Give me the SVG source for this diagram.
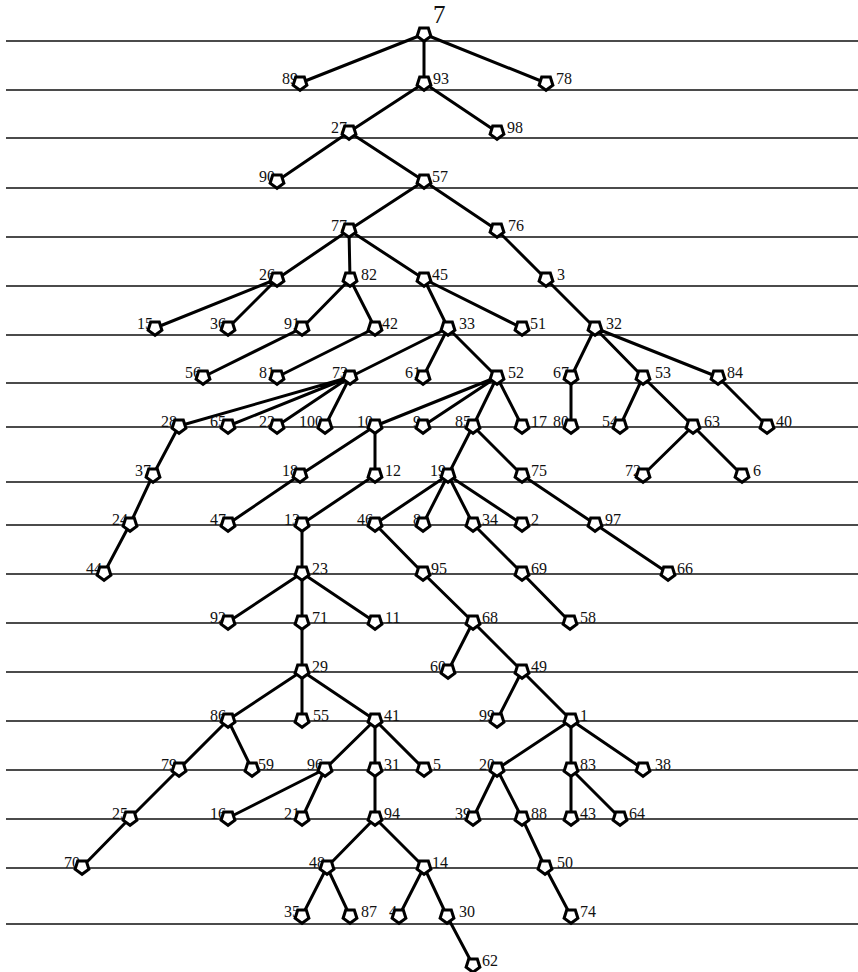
<svg xmlns="http://www.w3.org/2000/svg" width="858" height="972" viewBox="0 0 858 972">
<style>
.rule{stroke:#111;stroke-width:1.4;fill:none}
.e{stroke:#000;stroke-width:3;fill:none;stroke-linecap:round}
.pg{fill:#fff;stroke:#000;stroke-width:3;stroke-linejoin:miter}
text{font-family:"Liberation Serif","Times New Roman",serif;font-size:16px;fill:#111}
.l{text-anchor:end}
.root{font-size:25px}
</style>
<defs>
<path id="pg" class="pg" d="M0,7.3 L-6.9,2.25 L-4.3,-5.9 L4.3,-5.9 L6.9,2.25 Z"/>
</defs>
<rect width="858" height="972" fill="#fff"/>
<g id="rules">
<path class="rule" d="M6,41H858M6,90H858M6,138H858M6,188H858M6,237H858M6,286H858M6,335H858M6,383H858M6,427H858M6,482H858M6,525H858M6,574H858M6,623H858M6,672H858M6,721H858M6,770H858M6,819H858M6,868H858M6,924H858"/>
</g>
<g id="connectors">
<path class="e" d="M424,34L300,83M424,34L424,83M424,34L546,83M424,83L349,132M424,83L497,132M349,132L277,181M349,132L424,181M424,181L349,230M424,181L497,230M349,230L277,279M349,230L350,279M349,230L424,279M497,230L546,279M277,279L155,328M277,279L228,328M350,279L302,328M350,279L375,328M424,279L448,328M424,279L522,328M546,279L595,328M302,328L203,377M375,328L277,377M448,328L350,377M448,328L423,377M448,328L497,377M595,328L571,377M595,328L643,377M595,328L718,377M350,377L179,426M350,377L228,426M350,377L277,426M350,377L325,426M497,377L375,426M497,377L423,426M497,377L473,426M497,377L522,426M571,377L571,426M643,377L620,426M643,377L693,426M718,377L767,426M179,426L153,475M375,426L300,475M375,426L375,475M473,426L448,475M473,426L522,475M693,426L643,475M693,426L742,475M153,475L130,524M300,475L228,524M375,475L302,524M448,475L375,524M448,475L423,524M448,475L473,524M448,475L522,524M522,475L595,524M130,524L104,573M302,524L302,573M375,524L423,573M473,524L522,573M595,524L668,573M302,573L228,622M302,573L302,622M302,573L375,622M423,573L473,622M522,573L570,622M302,622L302,671M473,622L448,671M473,622L522,671M302,671L228,720M302,671L302,720M302,671L375,720M522,671L497,720M522,671L571,720M228,720L179,769M228,720L252,769M375,720L325,769M375,720L375,769M375,720L424,769M571,720L497,769M571,720L571,769M571,720L643,769M179,769L130,818M325,769L228,818M325,769L302,818M375,769L375,818M497,769L473,818M497,769L522,818M571,769L571,818M571,769L620,818M130,818L82,867M375,818L327,867M375,818L424,867M522,818L545,867M327,867L302,916M327,867L350,916M424,867L399,916M424,867L447,916M545,867L571,916M447,916L473,965"/>
</g>
<g id="nodes">
<g id="n7"><text class="root" x="433" y="23">7</text><use href="#pg" x="424" y="34"/></g>
<g id="n89"><text class="l" x="298" y="84">89</text><use href="#pg" x="300" y="83"/></g>
<g id="n93"><use href="#pg" x="424" y="83"/><text x="433" y="84">93</text></g>
<g id="n78"><use href="#pg" x="546" y="83"/><text x="556" y="84">78</text></g>
<g id="n27"><text class="l" x="347" y="133">27</text><use href="#pg" x="349" y="132"/></g>
<g id="n98"><use href="#pg" x="497" y="132"/><text x="507" y="133">98</text></g>
<g id="n90"><text class="l" x="275" y="182">90</text><use href="#pg" x="277" y="181"/></g>
<g id="n57"><use href="#pg" x="424" y="181"/><text x="432" y="182">57</text></g>
<g id="n77"><text class="l" x="347" y="231">77</text><use href="#pg" x="349" y="230"/></g>
<g id="n76"><use href="#pg" x="497" y="230"/><text x="508" y="231">76</text></g>
<g id="n26"><text class="l" x="275" y="280">26</text><use href="#pg" x="277" y="279"/></g>
<g id="n82"><use href="#pg" x="350" y="279"/><text x="361" y="280">82</text></g>
<g id="n45"><use href="#pg" x="424" y="279"/><text x="432" y="280">45</text></g>
<g id="n3"><use href="#pg" x="546" y="279"/><text x="557" y="280">3</text></g>
<g id="n15"><text class="l" x="153" y="329">15</text><use href="#pg" x="155" y="328"/></g>
<g id="n36"><text class="l" x="226" y="329">36</text><use href="#pg" x="228" y="328"/></g>
<g id="n91"><text class="l" x="300" y="329">91</text><use href="#pg" x="302" y="328"/></g>
<g id="n42"><use href="#pg" x="375" y="328"/><text x="382" y="329">42</text></g>
<g id="n33"><use href="#pg" x="448" y="328"/><text x="459" y="329">33</text></g>
<g id="n51"><use href="#pg" x="522" y="328"/><text x="530" y="329">51</text></g>
<g id="n32"><use href="#pg" x="595" y="328"/><text x="606" y="329">32</text></g>
<g id="n56"><text class="l" x="201" y="378">56</text><use href="#pg" x="203" y="377"/></g>
<g id="n81"><text class="l" x="275" y="378">81</text><use href="#pg" x="277" y="377"/></g>
<g id="n73"><text class="l" x="348" y="378">73</text><use href="#pg" x="350" y="377"/></g>
<g id="n61"><text class="l" x="421" y="378">61</text><use href="#pg" x="423" y="377"/></g>
<g id="n52"><use href="#pg" x="497" y="377"/><text x="508" y="378">52</text></g>
<g id="n67"><text class="l" x="569" y="378">67</text><use href="#pg" x="571" y="377"/></g>
<g id="n53"><use href="#pg" x="643" y="377"/><text x="655" y="378">53</text></g>
<g id="n84"><use href="#pg" x="718" y="377"/><text x="727" y="378">84</text></g>
<g id="n28"><text class="l" x="177" y="427">28</text><use href="#pg" x="179" y="426"/></g>
<g id="n65"><text class="l" x="226" y="427">65</text><use href="#pg" x="228" y="426"/></g>
<g id="n22"><text class="l" x="275" y="427">22</text><use href="#pg" x="277" y="426"/></g>
<g id="n100"><text class="l" x="323" y="427">100</text><use href="#pg" x="325" y="426"/></g>
<g id="n10"><text class="l" x="373" y="427">10</text><use href="#pg" x="375" y="426"/></g>
<g id="n9"><text class="l" x="421" y="427">9</text><use href="#pg" x="423" y="426"/></g>
<g id="n85"><text class="l" x="471" y="427">85</text><use href="#pg" x="473" y="426"/></g>
<g id="n17"><use href="#pg" x="522" y="426"/><text x="531" y="427">17</text></g>
<g id="n80"><text class="l" x="569" y="427">80</text><use href="#pg" x="571" y="426"/></g>
<g id="n54"><text class="l" x="618" y="427">54</text><use href="#pg" x="620" y="426"/></g>
<g id="n63"><use href="#pg" x="693" y="426"/><text x="704" y="427">63</text></g>
<g id="n40"><use href="#pg" x="767" y="426"/><text x="776" y="427">40</text></g>
<g id="n37"><text class="l" x="151" y="476">37</text><use href="#pg" x="153" y="475"/></g>
<g id="n18"><text class="l" x="298" y="476">18</text><use href="#pg" x="300" y="475"/></g>
<g id="n12"><use href="#pg" x="375" y="475"/><text x="385" y="476">12</text></g>
<g id="n19"><text class="l" x="446" y="476">19</text><use href="#pg" x="448" y="475"/></g>
<g id="n75"><use href="#pg" x="522" y="475"/><text x="531" y="476">75</text></g>
<g id="n72"><text class="l" x="641" y="476">72</text><use href="#pg" x="643" y="475"/></g>
<g id="n6"><use href="#pg" x="742" y="475"/><text x="753" y="476">6</text></g>
<g id="n24"><text class="l" x="128" y="525">24</text><use href="#pg" x="130" y="524"/></g>
<g id="n47"><text class="l" x="226" y="525">47</text><use href="#pg" x="228" y="524"/></g>
<g id="n13"><text class="l" x="300" y="525">13</text><use href="#pg" x="302" y="524"/></g>
<g id="n46"><text class="l" x="373" y="525">46</text><use href="#pg" x="375" y="524"/></g>
<g id="n8"><text class="l" x="421" y="525">8</text><use href="#pg" x="423" y="524"/></g>
<g id="n34"><use href="#pg" x="473" y="524"/><text x="482" y="525">34</text></g>
<g id="n2"><use href="#pg" x="522" y="524"/><text x="531" y="525">2</text></g>
<g id="n97"><use href="#pg" x="595" y="524"/><text x="605" y="525">97</text></g>
<g id="n44"><text class="l" x="102" y="574">44</text><use href="#pg" x="104" y="573"/></g>
<g id="n23"><use href="#pg" x="302" y="573"/><text x="312" y="574">23</text></g>
<g id="n95"><use href="#pg" x="423" y="573"/><text x="431" y="574">95</text></g>
<g id="n69"><use href="#pg" x="522" y="573"/><text x="531" y="574">69</text></g>
<g id="n66"><use href="#pg" x="668" y="573"/><text x="677" y="574">66</text></g>
<g id="n92"><text class="l" x="226" y="623">92</text><use href="#pg" x="228" y="622"/></g>
<g id="n71"><use href="#pg" x="302" y="622"/><text x="312" y="623">71</text></g>
<g id="n11"><use href="#pg" x="375" y="622"/><text x="385" y="623">11</text></g>
<g id="n68"><use href="#pg" x="473" y="622"/><text x="482" y="623">68</text></g>
<g id="n58"><use href="#pg" x="570" y="622"/><text x="580" y="623">58</text></g>
<g id="n29"><use href="#pg" x="302" y="671"/><text x="312" y="672">29</text></g>
<g id="n60"><text class="l" x="446" y="672">60</text><use href="#pg" x="448" y="671"/></g>
<g id="n49"><use href="#pg" x="522" y="671"/><text x="531" y="672">49</text></g>
<g id="n86"><text class="l" x="226" y="721">86</text><use href="#pg" x="228" y="720"/></g>
<g id="n55"><use href="#pg" x="302" y="720"/><text x="313" y="721">55</text></g>
<g id="n41"><use href="#pg" x="375" y="720"/><text x="384" y="721">41</text></g>
<g id="n99"><text class="l" x="495" y="721">99</text><use href="#pg" x="497" y="720"/></g>
<g id="n1"><use href="#pg" x="571" y="720"/><text x="580" y="721">1</text></g>
<g id="n79"><text class="l" x="177" y="770">79</text><use href="#pg" x="179" y="769"/></g>
<g id="n59"><use href="#pg" x="252" y="769"/><text x="258" y="770">59</text></g>
<g id="n96"><text class="l" x="323" y="770">96</text><use href="#pg" x="325" y="769"/></g>
<g id="n31"><use href="#pg" x="375" y="769"/><text x="384" y="770">31</text></g>
<g id="n5"><use href="#pg" x="424" y="769"/><text x="433" y="770">5</text></g>
<g id="n20"><text class="l" x="495" y="770">20</text><use href="#pg" x="497" y="769"/></g>
<g id="n83"><use href="#pg" x="571" y="769"/><text x="580" y="770">83</text></g>
<g id="n38"><use href="#pg" x="643" y="769"/><text x="655" y="770">38</text></g>
<g id="n25"><text class="l" x="128" y="819">25</text><use href="#pg" x="130" y="818"/></g>
<g id="n16"><text class="l" x="226" y="819">16</text><use href="#pg" x="228" y="818"/></g>
<g id="n21"><text class="l" x="300" y="819">21</text><use href="#pg" x="302" y="818"/></g>
<g id="n94"><use href="#pg" x="375" y="818"/><text x="384" y="819">94</text></g>
<g id="n39"><text class="l" x="471" y="819">39</text><use href="#pg" x="473" y="818"/></g>
<g id="n88"><use href="#pg" x="522" y="818"/><text x="531" y="819">88</text></g>
<g id="n43"><use href="#pg" x="571" y="818"/><text x="580" y="819">43</text></g>
<g id="n64"><use href="#pg" x="620" y="818"/><text x="629" y="819">64</text></g>
<g id="n70"><text class="l" x="80" y="868">70</text><use href="#pg" x="82" y="867"/></g>
<g id="n48"><text class="l" x="325" y="868">48</text><use href="#pg" x="327" y="867"/></g>
<g id="n14"><use href="#pg" x="424" y="867"/><text x="432" y="868">14</text></g>
<g id="n50"><use href="#pg" x="545" y="867"/><text x="557" y="868">50</text></g>
<g id="n35"><text class="l" x="300" y="917">35</text><use href="#pg" x="302" y="916"/></g>
<g id="n87"><use href="#pg" x="350" y="916"/><text x="361" y="917">87</text></g>
<g id="n4"><text class="l" x="397" y="917">4</text><use href="#pg" x="399" y="916"/></g>
<g id="n30"><use href="#pg" x="447" y="916"/><text x="459" y="917">30</text></g>
<g id="n74"><use href="#pg" x="571" y="916"/><text x="580" y="917">74</text></g>
<g id="n62"><use href="#pg" x="473" y="965"/><text x="482" y="966">62</text></g>
</g>
</svg>
